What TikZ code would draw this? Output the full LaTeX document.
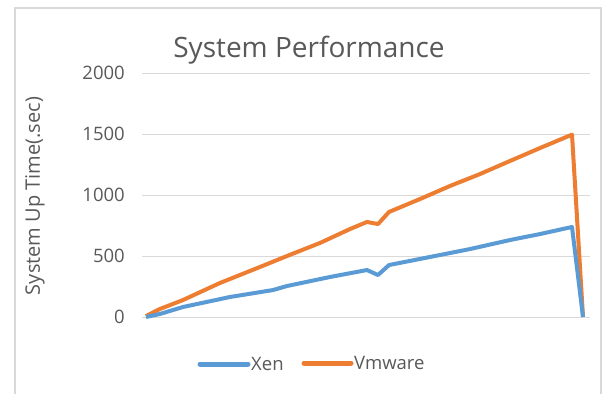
\documentclass[tikz,border=0pt]{standalone}
\usepackage{fontspec}
\usepackage{xcolor}
\setmainfont{Open Sans}
\definecolor{xenblue}{HTML}{5B9BD5}
\definecolor{vmorange}{HTML}{ED7D31}
\definecolor{txtgray}{HTML}{595959}
\definecolor{gridgray}{HTML}{D9D9D9}
\tikzstyle{frame} = [draw=gridgray, line width=1.5pt]
\tikzstyle{grid line} = [draw=gridgray, line width=1pt]
\tikzstyle{ticks} = [anchor=east, inner sep=0pt, text=txtgray, font=\fontsize{18.5}{18.5}\selectfont]
\tikzstyle{legtext} = [anchor=west, inner sep=0pt, text=txtgray, font=\fontsize{18.5}{18.5}\selectfont]
\tikzstyle{xenline} = [draw=xenblue, line width=4pt, line join=round]
\tikzstyle{vmline} = [draw=vmorange, line width=4pt, line join=round]

\begin{document}
\begin{tikzpicture}[x=1pt, y=1pt]
        \useasboundingbox (0,0) rectangle (604,394);
        \fill[white] (0,0) rectangle (604,394);

        % Chart frame
        \draw[frame] (15,0) -- (15,386) -- (601,386) -- (601,0);

        \node[anchor=base, inner sep=0pt, text=txtgray, font=\fontsize{28}{28}\selectfont] (title) at (309,336) {System Performance};

        % Grid and axis labels
        \foreach \v in {0,500,1000,1500,2000} {
            \draw[grid line] (142,77+0.122*\v) -- (590,77+0.122*\v);
            \node[ticks] (t\v) at (125,77+0.122*\v) {\v};
        }

        \node[rotate=90, inner sep=0pt, text=txtgray, font=\fontsize{20}{20}\selectfont] (ytitle) at (35,198) {System Up Time(.sec)};

        % Data
        \begin{scope}[shift={(146,77)}, x=1pt, y=0.122pt]
            \draw[vmline] plot coordinates {(0,8) (14,66) (37,139) (74,279) (114,410) (141,500) (174,607) (204,721) (221,779) (232,762) (243,861) (274,967) (304,1074) (334,1172) (364,1279) (394,1385) (426,1495) (437,0)};
            \draw[xenline] plot coordinates {(0,0) (14,25) (37,82) (84,164) (127,221) (141,254) (184,328) (221,385) (232,344) (243,426) (284,492) (324,557) (364,631) (394,680) (426,738) (437,0)};
        \end{scope}

        % Legend
        \coordinate (xa) at (200,30);
        \coordinate (xb) at (248,30);
        \draw[xenblue, line width=5pt, line cap=round] (xa) -- (xb);
        \node[legtext] (xenlabel) at (251,30) {Xen};

        \coordinate (va) at (304,31);
        \coordinate (vb) at (351,31);
        \draw[vmorange, line width=5pt, line cap=round] (va) -- (vb);
        \node[legtext] (vmlabel) at (354,31) {Vmware};
    \end{tikzpicture}
\end{document}
